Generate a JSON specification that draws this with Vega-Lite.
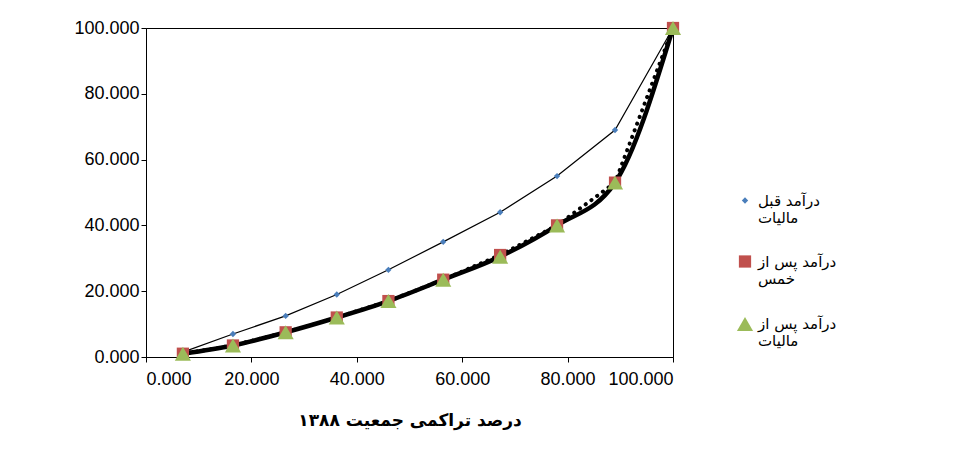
{
  "$schema": "https://vega.github.io/schema/vega-lite/v6.json",
  "width": 527,
  "height": 329,
  "autosize": "none",
  "padding": {"left": 146, "top": 28, "right": 292, "bottom": 114},
  "background": "white",
  "config": {
    "font": "DejaVu Sans",
    "view": {"stroke": "black", "strokeWidth": 1}
  },
  "data": {
    "values": [
      {"x": 7, "y": 1.5, "s": "درآمد قبل مالیات"},
      {"x": 16.5, "y": 7, "s": "درآمد قبل مالیات"},
      {"x": 26.5, "y": 12.5, "s": "درآمد قبل مالیات"},
      {"x": 36.2, "y": 19, "s": "درآمد قبل مالیات"},
      {"x": 46, "y": 26.5, "s": "درآمد قبل مالیات"},
      {"x": 56.4, "y": 35, "s": "درآمد قبل مالیات"},
      {"x": 67.2, "y": 44, "s": "درآمد قبل مالیات"},
      {"x": 78, "y": 55, "s": "درآمد قبل مالیات"},
      {"x": 89, "y": 69, "s": "درآمد قبل مالیات"},
      {"x": 100, "y": 100, "s": "درآمد قبل مالیات"},
      {"x": 7, "y": 1, "s": "درآمد پس از خمس"},
      {"x": 16.5, "y": 3.5, "s": "درآمد پس از خمس"},
      {"x": 26.5, "y": 7.5, "s": "درآمد پس از خمس"},
      {"x": 36.2, "y": 12, "s": "درآمد پس از خمس"},
      {"x": 46, "y": 17, "s": "درآمد پس از خمس"},
      {"x": 56.4, "y": 23.5, "s": "درآمد پس از خمس"},
      {"x": 67.2, "y": 31, "s": "درآمد پس از خمس"},
      {"x": 78, "y": 40, "s": "درآمد پس از خمس"},
      {"x": 89, "y": 53, "s": "درآمد پس از خمس"},
      {"x": 100, "y": 100, "s": "درآمد پس از خمس"},
      {"x": 7, "y": 1, "s": "درآمد پس از مالیات"},
      {"x": 16.5, "y": 3.5, "s": "درآمد پس از مالیات"},
      {"x": 26.5, "y": 7.5, "s": "درآمد پس از مالیات"},
      {"x": 36.2, "y": 12, "s": "درآمد پس از مالیات"},
      {"x": 46, "y": 17, "s": "درآمد پس از مالیات"},
      {"x": 56.4, "y": 23.5, "s": "درآمد پس از مالیات"},
      {"x": 67.2, "y": 30.5, "s": "درآمد پس از مالیات"},
      {"x": 78, "y": 40, "s": "درآمد پس از مالیات"},
      {"x": 89, "y": 53, "s": "درآمد پس از مالیات"},
      {"x": 100, "y": 100, "s": "درآمد پس از مالیات"}
    ]
  },
  "encoding": {
    "x": {
      "field": "x", "type": "quantitative",
      "scale": {"domain": [0, 100]},
      "axis": {"format": ".3f", "values": [0, 20, 40, 60, 80, 100], "grid": false, "labelFont": "Liberation Sans", "labelFontSize": 18, "labelColor": "black", "domainColor": "black", "tickColor": "black", "labelPadding": 8,
        "title": "درصد تراکمی جمعیت ۱۳۸۸", "titleFontSize": 17, "titleFontWeight": "bold", "titlePadding": 24, "titleColor": "black"}
    },
    "y": {
      "field": "y", "type": "quantitative",
      "scale": {"domain": [0, 100]},
      "axis": {"format": ".3f", "values": [0, 20, 40, 60, 80, 100], "grid": false, "labelFont": "Liberation Sans", "labelFontSize": 18, "labelColor": "black", "domainColor": "black", "tickColor": "black", "title": null}
    }
  },
  "layer": [
    {
      "transform": [{"filter": "datum.s == 'درآمد پس از مالیات'"}],
      "mark": {"type": "line", "color": "black", "strokeWidth": 4.5, "interpolate": "monotone"},
      "encoding": {}
    },
    {
      "transform": [{"filter": "datum.s == 'درآمد قبل مالیات'"}],
      "mark": {"type": "line", "color": "black", "strokeWidth": 1.2},
      "encoding": {}
    },
    {
      "transform": [{"filter": "datum.s == 'درآمد پس از خمس'"}],
      "mark": {"type": "line", "color": "black", "strokeWidth": 4, "strokeCap": "round", "strokeDash": [0.1, 7]},
      "encoding": {}
    },
    {
      "mark": {"type": "point", "filled": true, "opacity": 1},
      "encoding": {
        "color": {"field": "s", "type": "nominal",
          "scale": {"domain": ["درآمد قبل مالیات", "درآمد پس از خمس", "درآمد پس از مالیات"], "range": ["#4a7ebb", "#c0504d", "#9bbb59"]},
          "legend": {"title": null, "orient": "none", "legendX": 590, "legendY": 165, "labelFontSize": 15, "labelColor": "black", "symbolSize": 200, "rowPadding": 28, "symbolOffset": 0,
            "labelExpr": "indexof(datum.label, 'پس') > 0 ? ['درآمد پس از', slice(datum.label, 12)] : ['درآمد قبل', 'مالیات']"}},
        "shape": {"field": "s", "type": "nominal",
          "scale": {"domain": ["درآمد قبل مالیات", "درآمد پس از خمس", "درآمد پس از مالیات"], "range": ["diamond", "square", "triangle-up"]}},
        "size": {"field": "s", "type": "nominal", "legend": null,
          "scale": {"domain": ["درآمد قبل مالیات", "درآمد پس از خمس", "درآمد پس از مالیات"], "range": [40, 260, 260]}}
      }
    }
  ]
}
